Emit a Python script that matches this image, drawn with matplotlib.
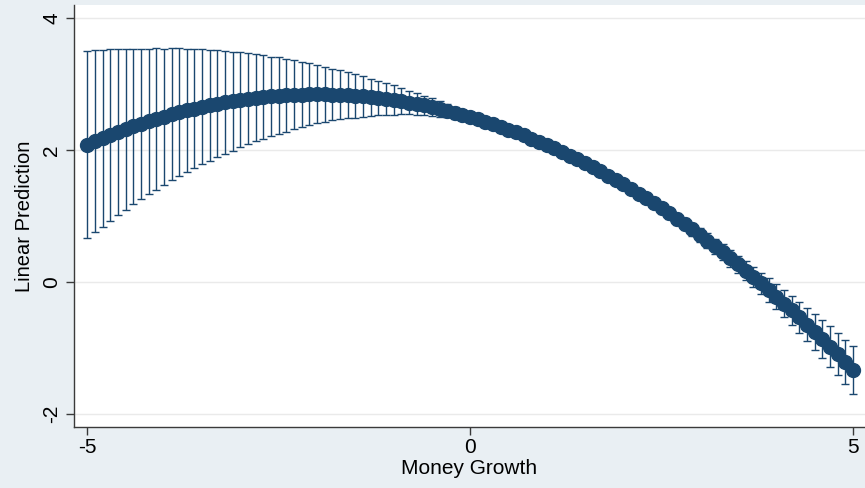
import matplotlib
matplotlib.use('Agg')
import matplotlib.pyplot as plt
import numpy as np

# predictive margins of the outcome over money growth, with 95% CI half-widths
money_growth = np.round(np.arange(-50, 51) / 10, 1)

margin = [
    2.080, 2.130, 2.178, 2.225, 2.270, 2.313, 2.355, 2.395, 2.433, 2.469,
    2.504, 2.537, 2.568, 2.598, 2.626, 2.652, 2.677, 2.700, 2.721, 2.740,
    2.758, 2.774, 2.788, 2.801, 2.812, 2.821, 2.829, 2.835, 2.839, 2.841,
    2.842, 2.841, 2.838, 2.834, 2.828, 2.820, 2.811, 2.800, 2.787, 2.772,
    2.756, 2.738, 2.718, 2.697, 2.674, 2.649, 2.623, 2.595, 2.565, 2.533,
    2.500, 2.465, 2.428, 2.390, 2.350, 2.308, 2.265, 2.220, 2.173, 2.124,
    2.074, 2.022, 1.968, 1.913, 1.856, 1.797, 1.737, 1.675, 1.611, 1.545,
    1.478, 1.409, 1.338, 1.266, 1.192, 1.116, 1.039, 0.960, 0.879, 0.796,
    0.712, 0.626, 0.538, 0.449, 0.358, 0.265, 0.171, 0.075, -0.023, -0.123,
    -0.224, -0.327, -0.432, -0.538, -0.646, -0.756, -0.867, -0.980, -1.095, -1.212,
    -1.330,
]

ci_half = [
    1.42, 1.38, 1.34, 1.30, 1.26, 1.22, 1.18, 1.14, 1.10, 1.07,
    1.03, 1.00, 0.97, 0.93, 0.90, 0.87, 0.84, 0.81, 0.78, 0.75,
    0.72, 0.69, 0.66, 0.63, 0.60, 0.58, 0.55, 0.52, 0.49, 0.47,
    0.44, 0.42, 0.39, 0.37, 0.35, 0.33, 0.31, 0.28, 0.26, 0.24,
    0.22, 0.20, 0.18, 0.17, 0.15, 0.13, 0.12, 0.10, 0.09, 0.07,
    0.06, 0.06, 0.05, 0.05, 0.05, 0.05, 0.05, 0.05, 0.05, 0.05,
    0.05, 0.05, 0.05, 0.05, 0.05, 0.05, 0.06, 0.06, 0.06, 0.06,
    0.06, 0.06, 0.07, 0.07, 0.07, 0.08, 0.08, 0.09, 0.09, 0.10,
    0.10, 0.11, 0.11, 0.12, 0.13, 0.13, 0.14, 0.15, 0.16, 0.18,
    0.19, 0.21, 0.22, 0.24, 0.25, 0.27, 0.29, 0.31, 0.32, 0.34,
    0.36,
]

x_ticks = [-5, 0, 5]
y_ticks = [-2, 0, 2, 4]

navy = '#1A476F'
bg = '#E9EFF3'

plt.rcParams['font.family'] = ['Liberation Sans', 'DejaVu Sans']

fig = plt.figure(figsize=(8.65, 4.88), dpi=100, facecolor=bg)
ax = fig.add_axes([0.0855, 0.125, 0.9145, 0.865])
ax.set_facecolor('white')

ax.errorbar(money_growth, margin, yerr=ci_half, fmt='none', ecolor=navy,
            elinewidth=1.0, capsize=2.9, capthick=1.0, zorder=2)
ax.plot(money_growth, margin, '-', color=navy, lw=3, zorder=3)
ax.plot(money_growth, margin, 'o', color=navy, ms=10, mec=navy, zorder=4)

ax.set_xlim(-5.174, 5.157)
ax.set_ylim(-2.197, 4.197)
ax.set_xticks(x_ticks)
ax.set_yticks(y_ticks)
ax.set_xticklabels([str(v) for v in x_ticks])
ax.set_yticklabels([str(v) for v in y_ticks])
plt.setp(ax.get_yticklabels(), rotation=90, va='center')

ax.grid(axis='y', color='#EAEAEA', lw=1.0, zorder=0)
ax.set_axisbelow(True)

for side in ['top', 'right']:
    ax.spines[side].set_visible(False)
for side in ['left', 'bottom']:
    ax.spines[side].set_color('#3A3A3A')
    ax.spines[side].set_linewidth(1.0)

ax.tick_params(axis='both', colors='#3A3A3A', labelcolor='black',
               labelsize=15, length=6, width=1.0)
ax.tick_params(axis='y', pad=3)
ax.tick_params(axis='x', pad=2)

ax.set_xlabel('Money Growth', fontsize=15, labelpad=1)
ax.set_ylabel('Linear Prediction', fontsize=14.5, labelpad=6)

fig.savefig('out.png', dpi=100, facecolor=bg)
